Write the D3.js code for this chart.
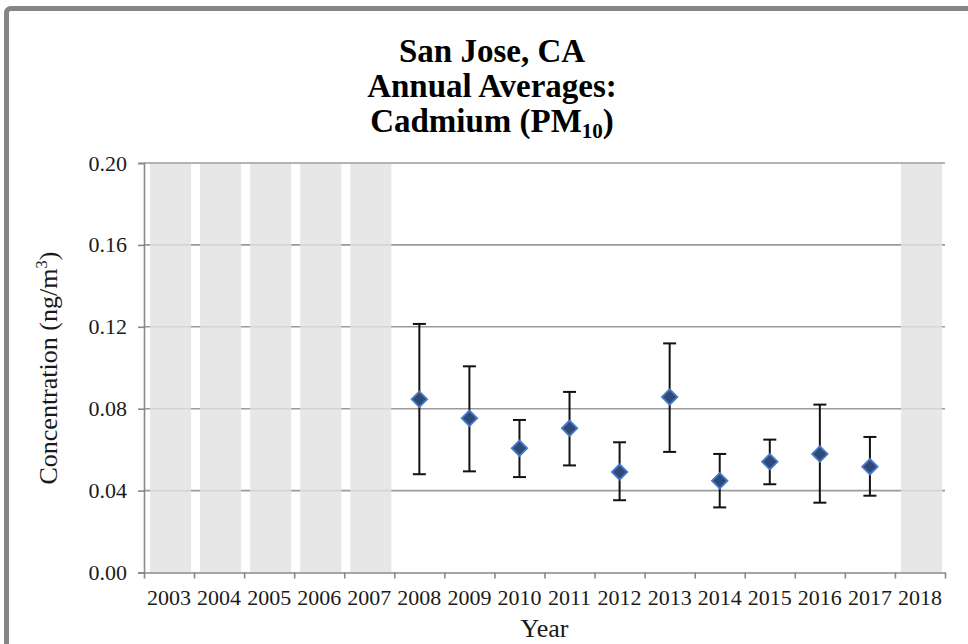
<!DOCTYPE html>
<html>
<head>
<meta charset="utf-8">
<script src="https://cdn.jsdelivr.net/npm/d3@7"></script>
<style>
  html, body { margin: 0; padding: 0; background: #fff; }
  svg { display: block; font-family: "Liberation Serif", "Times New Roman", serif; }
</style>
</head>
<body>
<svg id="chart" width="968" height="644"></svg>
<script>
// Year categories on the x axis
const years = ["2003","2004","2005","2006","2007","2008","2009","2010","2011","2012","2013","2014","2015","2016","2017","2018"];
// Years without sampling (shaded columns)
const noDataYears = ["2003","2004","2005","2006","2007","2018"];
// Annual average cadmium concentration (ng/m3) and its confidence bounds
const dataYears = ["2008","2009","2010","2011","2012","2013","2014","2015","2016","2017"];
const averages  = [0.0846, 0.0753, 0.0607, 0.0704, 0.0491, 0.0857, 0.0448, 0.0541, 0.0579, 0.0517];
const lowerCI   = [0.0480, 0.0494, 0.0466, 0.0523, 0.0353, 0.0589, 0.0318, 0.0431, 0.0341, 0.0375];
const upperCI   = [0.1214, 0.1007, 0.0745, 0.0882, 0.0636, 0.1119, 0.0579, 0.0649, 0.0820, 0.0662];
// Y axis tick values
const yTicks = [0.00, 0.04, 0.08, 0.12, 0.16, 0.20];

const svg = d3.select("#chart");
const plot = { left: 144, right: 945, top: 163, bottom: 572.5 };

const x = d3.scaleBand().domain(years).range([plot.left, plot.right]).padding(0);
const xEdge = d3.scaleLinear().domain([0, years.length]).range([plot.left, plot.right]);
const y = d3.scaleLinear().domain([0, 0.2]).range([plot.bottom, plot.top]);

// Outer frame
svg.append("rect")
  .attr("x", 6.5).attr("y", 8.5)
  .attr("width", 1100).attr("height", 1000)
  .attr("rx", 4)
  .attr("fill", "none")
  .attr("stroke", "#858585")
  .attr("stroke-width", 5);

// Horizontal gridlines
svg.append("g")
  .selectAll("line")
  .data(yTicks.filter(d => d > 0))
  .join("line")
  .attr("x1", plot.left).attr("x2", plot.right)
  .attr("y1", d => y(d)).attr("y2", d => y(d))
  .attr("stroke", "#9b9b9b")
  .attr("stroke-width", 1.6);

// Shaded columns for years without data
const bw = x.bandwidth();
svg.append("g")
  .selectAll("rect")
  .data(noDataYears)
  .join("rect")
  .attr("x", d => x(d) + bw * 0.12)
  .attr("width", bw * 0.82)
  .attr("y", y(0.2) + 1)
  .attr("height", y(0) - y(0.2) - 1)
  .attr("fill", "#e2e2e2")
  .attr("fill-opacity", 0.82);

// Y axis
const yAxis = svg.append("g")
  .attr("transform", `translate(${plot.left},0)`)
  .call(d3.axisLeft(y).tickValues(yTicks).tickFormat(d3.format(".2f")).tickSize(6).tickPadding(11));
yAxis.select(".domain").attr("stroke", "#888").attr("stroke-width", 1.6);
yAxis.selectAll(".tick line").attr("stroke", "#888").attr("stroke-width", 1.6);
yAxis.selectAll("text")
  .attr("font-family", "Liberation Serif")
  .attr("font-size", 22)
  .attr("fill", "#1a1a1a");

// X axis: tick marks on category boundaries
const xTickAxis = svg.append("g")
  .attr("transform", `translate(0,${plot.bottom})`)
  .call(d3.axisBottom(xEdge).tickValues(d3.range(years.length + 1)).tickFormat("").tickSize(6).tickSizeOuter(0));
xTickAxis.select(".domain").attr("stroke", "#888").attr("stroke-width", 1.6);
xTickAxis.selectAll(".tick line").attr("stroke", "#888").attr("stroke-width", 1.6);

// X axis: year labels at category centres
const xLabelAxis = svg.append("g")
  .attr("transform", `translate(0,${plot.bottom})`)
  .call(d3.axisBottom(x).tickSize(0));
xLabelAxis.select(".domain").remove();
xLabelAxis.selectAll("text")
  .attr("y", 32.5)
  .attr("dy", 0)
  .attr("font-family", "Liberation Serif")
  .attr("font-size", 22)
  .attr("fill", "#1a1a1a");

// Error bars
const points = dataYears.map((yr, i) => ({ yr, avg: averages[i], lo: lowerCI[i], hi: upperCI[i] }));
const cx = d => x(d.yr) + bw / 2;
const capHalf = 6.5;
const eb = svg.append("g").attr("stroke", "#111").attr("stroke-width", 2);
eb.selectAll("line.stem").data(points).join("line").attr("class", "stem")
  .attr("x1", cx).attr("x2", cx)
  .attr("y1", d => y(d.hi)).attr("y2", d => y(d.lo));
eb.selectAll("line.top").data(points).join("line").attr("class", "top")
  .attr("x1", d => cx(d) - capHalf).attr("x2", d => cx(d) + capHalf)
  .attr("y1", d => y(d.hi)).attr("y2", d => y(d.hi));
eb.selectAll("line.bot").data(points).join("line").attr("class", "bot")
  .attr("x1", d => cx(d) - capHalf).attr("x2", d => cx(d) + capHalf)
  .attr("y1", d => y(d.lo)).attr("y2", d => y(d.lo));

// Diamond markers for annual averages
svg.append("g")
  .selectAll("path")
  .data(points)
  .join("path")
  .attr("d", d3.symbol(d3.symbolSquare, 120))
  .attr("transform", d => `translate(${cx(d)},${y(d.avg)}) rotate(45)`)
  .attr("fill", "#2e4a78")
  .attr("stroke", "#4a7bc4")
  .attr("stroke-width", 1.8);

// Title
const title = svg.append("text")
  .attr("text-anchor", "middle")
  .attr("font-family", "Liberation Serif")
  .attr("font-weight", "bold")
  .attr("font-size", 33)
  .attr("fill", "#000");
title.append("tspan").attr("x", 492).attr("y", 62).text("San Jose, CA");
title.append("tspan").attr("x", 492).attr("y", 97).text("Annual Averages:");
title.append("tspan").attr("x", 492).attr("y", 132).text("Cadmium (PM");
title.append("tspan").attr("font-size", 21).attr("dy", 6).text("10");
title.append("tspan").attr("dy", -6).text(")");

// Axis titles
svg.append("text")
  .attr("x", (plot.left + plot.right) / 2)
  .attr("y", 637)
  .attr("text-anchor", "middle")
  .attr("font-family", "Liberation Serif")
  .attr("font-size", 26)
  .attr("fill", "#1a1a1a")
  .text("Year");

const yLabel = svg.append("text")
  .attr("transform", "translate(57,368) rotate(-90)")
  .attr("text-anchor", "middle")
  .attr("font-family", "Liberation Serif")
  .attr("font-size", 26)
  .attr("fill", "#1a1a1a");
yLabel.append("tspan").text("Concentration (ng/m");
yLabel.append("tspan").attr("font-size", 17).attr("dy", -10).text("3");
yLabel.append("tspan").attr("dy", 10).text(")");
</script>
</body>
</html>
